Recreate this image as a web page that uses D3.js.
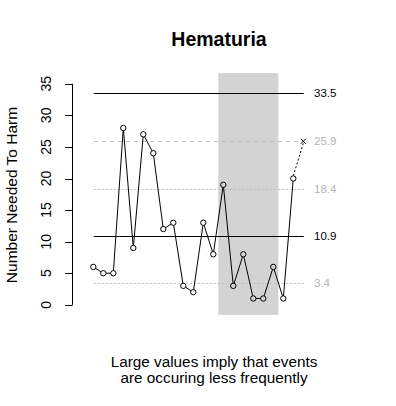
<!DOCTYPE html>
<html>
<head>
<meta charset="utf-8">
<script src="https://cdn.jsdelivr.net/npm/d3@7"></script>
<style>
  body { margin: 0; background: #fff; }
  svg { display: block; font-family: "Liberation Sans", Arial, sans-serif; }
</style>
</head>
<body>
<svg id="mainsvg" width="396" height="406"></svg>
<script>
// NNH per period
const periods = d3.range(1, 22);
const nnh = [6, 5, 5, 28, 9, 27, 24, 12, 13, 3, 2, 13, 8, 19, 3, 8, 1, 1, 6, 1, 20];
const predictedPeriod = 22;
const predicted = 25.9;
const refValues = [33.5, 25.9, 18.4, 10.9, 3.4];
const refKinds = ['limit', 'warn', 'sigma', 'mean', 'sigma'];
const yTicks = [0, 5, 10, 15, 20, 25, 30, 35];
const shadePeriods = [13.5, 19.5];
const titleText = 'Hematuria';
const yTitle = 'Number Needed To Harm';
const noteLines = ['Large values imply that events', 'are occuring less frequently'];

const svg = d3.select('#mainsvg');

const xScale = d3.scaleLinear().domain([1, 22]).range([93.3, 303.3]);
const yScale = d3.scaleLinear().domain([0, 35]).range([304.8, 83.8]);

const styles = {
  limit: { stroke: '#000', dash: null, text: '#000' },
  mean: { stroke: '#000', dash: null, text: '#000' },
  warn: { stroke: '#bebebe', dash: '4,4', text: '#b4b4b4' },
  sigma: { stroke: '#bebebe', dash: '2,2', text: '#b4b4b4' },
};

// shaded period
svg.append('rect')
  .attr('x', xScale(shadePeriods[0]))
  .attr('width', xScale(shadePeriods[1]) - xScale(shadePeriods[0]))
  .attr('y', yScale(36.7))
  .attr('height', yScale(-1.6) - yScale(36.7))
  .attr('fill', '#d3d3d3');

// reference lines + labels
const refs = refValues.map((v, i) => ({ v, kind: refKinds[i] }));
svg.selectAll('line.ref').data(refs).join('line')
  .attr('class', 'ref')
  .attr('x1', xScale(1.05)).attr('x2', xScale(22.05))
  .attr('y1', d => Math.round(yScale(d.v)) + 0.5)
  .attr('y2', d => Math.round(yScale(d.v)) + 0.5)
  .attr('stroke', d => styles[d.kind].stroke)
  .attr('stroke-dasharray', d => styles[d.kind].dash)
  .attr('stroke-width', 1);

svg.selectAll('text.ref').data(refs).join('text')
  .attr('class', 'ref')
  .attr('x', 314)
  .attr('y', d => yScale(d.v))
  .attr('dy', '0.36em')
  .attr('font-size', 11.5)
  .attr('fill', d => styles[d.kind].text)
  .text(d => d.v.toFixed(1));

// series: segments with small gaps at the points (type = "b")
const pts = periods.map((p, i) => [xScale(p), yScale(nnh[i])]);
const r = 2.7;
const segs = d3.pairs(pts).map(([a, b]) => {
  const dx = b[0] - a[0], dy = b[1] - a[1];
  const len = Math.hypot(dx, dy);
  const ux = dx / len, uy = dy / len;
  return [a[0] + ux * r, a[1] + uy * r, b[0] - ux * r, b[1] - uy * r];
});
svg.selectAll('line.seg').data(segs).join('line')
  .attr('class', 'seg')
  .attr('x1', d => d[0]).attr('y1', d => d[1])
  .attr('x2', d => d[2]).attr('y2', d => d[3])
  .attr('stroke', '#000').attr('stroke-width', 1);

svg.selectAll('circle.pt').data(pts).join('circle')
  .attr('class', 'pt')
  .attr('cx', d => d[0]).attr('cy', d => d[1])
  .attr('r', r)
  .attr('fill', 'none')
  .attr('stroke', '#000').attr('stroke-width', 1);

// dotted projection to predicted value
const last = pts[pts.length - 1];
const px = xScale(predictedPeriod), py = yScale(predicted);
svg.append('line')
  .attr('x1', last[0]).attr('y1', last[1] - r)
  .attr('x2', px).attr('y2', py + 2)
  .attr('stroke', '#000').attr('stroke-dasharray', '2,2');
svg.append('path')
  .attr('d', `M${px - 2.5},${py - 2.5}L${px + 2.5},${py + 2.5}M${px - 2.5},${py + 2.5}L${px + 2.5},${py - 2.5}`)
  .attr('stroke', '#000').attr('stroke-width', 1).attr('fill', 'none');

// y axis
const ax = svg.append('g');
ax.append('line')
  .attr('x1', 72.5).attr('x2', 72.5)
  .attr('y1', yScale(0)).attr('y2', yScale(35))
  .attr('stroke', '#000');
ax.selectAll('line.tick').data(yTicks).join('line')
  .attr('class', 'tick')
  .attr('x1', 65).attr('x2', 72.5)
  .attr('y1', d => Math.round(yScale(d)) + 0.5)
  .attr('y2', d => Math.round(yScale(d)) + 0.5)
  .attr('stroke', '#000');
ax.selectAll('text').data(yTicks).join('text')
  .attr('transform', d => `translate(51, ${yScale(d)}) rotate(-90)`)
  .attr('text-anchor', 'middle')
  .attr('font-size', 14)
  .text(d => d);

svg.append('text')
  .attr('transform', 'translate(17, 195) rotate(-90)')
  .attr('text-anchor', 'middle')
  .attr('font-size', 15.5)
  .text(yTitle);

// title
svg.append('text')
  .attr('x', 219).attr('y', 46)
  .attr('text-anchor', 'middle')
  .attr('font-size', 19.5)
  .attr('font-weight', 'bold')
  .text(titleText);

// note below
svg.selectAll('text.note').data(noteLines).join('text')
  .attr('class', 'note')
  .attr('x', 214)
  .attr('y', (d, i) => 367 + i * 16)
  .attr('text-anchor', 'middle')
  .attr('font-size', 15.3)
  .text(d => d);
</script>
</body>
</html>
